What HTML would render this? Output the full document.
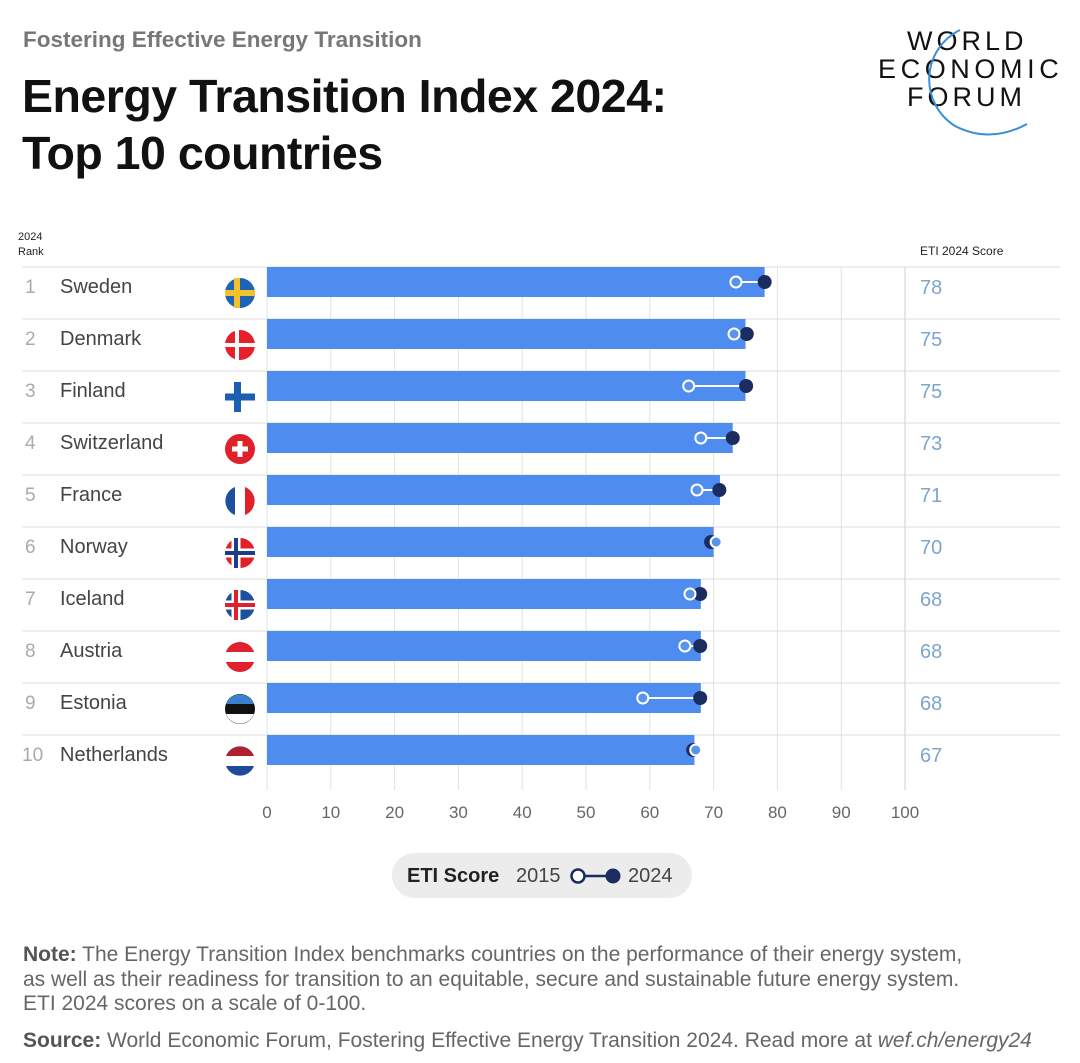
<!DOCTYPE html>
<html><head><meta charset="utf-8"><style>
body{margin:0;background:#fff;font-family:"Liberation Sans",Arial,sans-serif;}
#wrap{position:relative;width:1080px;height:1063px;overflow:hidden;}
.t{position:absolute;white-space:nowrap;}
</style></head><body>
<div id="wrap">
<div class="t" style="left:23px;top:27px;font-size:22.5px;color:#777;font-weight:bold;">Fostering Effective Energy Transition</div>
<div class="t" style="left:22px;top:68px;font-size:46.5px;line-height:57px;color:#111;font-weight:bold;letter-spacing:-0.5px;">Energy Transition Index 2024:<br>Top 10 countries</div>
<div style="position:absolute;left:875px;top:26px;width:195px;height:115px;">
<div class="t" style="left:32px;top:0;font-size:27px;letter-spacing:4px;color:#111;">WORLD</div>
<div class="t" style="left:3px;top:28px;font-size:27px;letter-spacing:4.6px;color:#111;">ECONOMIC</div>
<div class="t" style="left:32px;top:56px;font-size:27px;letter-spacing:4px;color:#111;">FORUM</div>
<svg width="195" height="115" style="position:absolute;left:0;top:0"><path d="M85 4 A55 55 0 0 0 80 100 Q115 118 152 98" fill="none" stroke="#3b8fd6" stroke-width="2"/></svg>
</div>
<svg id="chart" width="1080" height="1063" style="position:absolute;left:0;top:0"></svg>
<div style="position:absolute;left:392px;top:853px;width:300px;height:45px;border-radius:23px;background:#ececec;"></div>
<div class="t" style="left:407px;top:865px;font-size:20px;font-weight:bold;color:#222;">ETI Score</div>
<div class="t" style="left:516px;top:865px;font-size:20px;color:#444;">2015</div>
<svg style="position:absolute;left:568px;top:864px" width="56" height="24"><line x1="10" y1="12" x2="45" y2="12" stroke="#1b2d60" stroke-width="2.5"/><circle cx="10" cy="12" r="6.5" fill="#fff" stroke="#1b2d60" stroke-width="2.5"/><circle cx="45" cy="12" r="7.5" fill="#1b2d60"/></svg>
<div class="t" style="left:628px;top:865px;font-size:20px;color:#444;">2024</div>
<div class="t" style="left:23px;top:943px;font-size:21px;line-height:24.5px;color:#666;"><b style="color:#555">Note:</b> The Energy Transition Index benchmarks countries on the performance of their energy system,<br>as well as their readiness for transition to an equitable, secure and sustainable future energy system.<br>ETI 2024 scores on a scale of 0-100.</div>
<div class="t" style="left:23px;top:1029px;font-size:21px;color:#666;"><b style="color:#555">Source:</b> World Economic Forum, Fostering Effective Energy Transition 2024. Read more at <i>wef.ch/energy24</i></div>
</div>
<script>
const countries=["Sweden","Denmark","Finland","Switzerland","France","Norway","Iceland","Austria","Estonia","Netherlands"];
const scores2024=[78,75,75,73,71,70,68,68,68,67];
const dot2024=[78,75.2,75.1,73,70.9,69.6,67.9,67.9,67.9,66.8];
const dot2015=[73.5,73.2,66.1,68,67.4,70.4,66.3,65.5,58.9,67.2];
const ticks=[0,10,20,30,40,50,60,70,80,90,100];
const svg=document.getElementById('chart');
const NS='http://www.w3.org/2000/svg';
const X0=267,X1=905,TOP=267,ROW=52;
const x=v=>X0+(X1-X0)*v/100;
const y=i=>TOP+i*ROW;
function mk(tag,attrs,parent){const e=document.createElementNS(NS,tag);for(const k in attrs)e.setAttribute(k,attrs[k]);(parent||svg).appendChild(e);return e;}
function txt(s,attrs){const e=mk('text',attrs);e.textContent=s;return e;}
let h=txt('2024',{x:18,y:240,'font-size':11,fill:'#222','font-family':'Liberation Sans'});


h=txt('Rank',{x:18,y:255,'font-size':11,fill:'#222','font-family':'Liberation Sans'});


h=txt('ETI 2024 Score',{x:920,y:255,'font-size':12,fill:'#222','font-family':'Liberation Sans'});


ticks.forEach(t=>{
  const l=mk('line',{x1:x(t),x2:x(t),y1:TOP,y2:790,stroke:t===100?'#cfcfcf':'#e2e2e2','stroke-width':1});
  
  
  const tl=txt(String(t),{x:x(t),y:818,'text-anchor':'middle','font-size':17,fill:'#666','font-family':'Liberation Sans'});
  
  
});
const flagDraw={
 Sweden:(g)=>{mk('circle',{cx:0,cy:0,r:15,fill:'#1e64b4'},g);mk('rect',{x:-15,y:-3,width:30,height:6,fill:'#f2c12e'},g);mk('rect',{x:-6,y:-15,width:6,height:30,fill:'#f2c12e'},g);},
 Denmark:(g)=>{mk('circle',{cx:0,cy:0,r:15,fill:'#e8202a'},g);mk('rect',{x:-15,y:-2,width:30,height:4,fill:'#fff'},g);mk('rect',{x:-5,y:-15,width:4,height:30,fill:'#fff'},g);},
 Finland:(g)=>{mk('circle',{cx:0,cy:0,r:15,fill:'#fff'},g);mk('rect',{x:-15,y:-3.5,width:30,height:7,fill:'#1b5fb0'},g);mk('rect',{x:-6,y:-15,width:7,height:30,fill:'#1b5fb0'},g);},
 Switzerland:(g)=>{mk('circle',{cx:0,cy:0,r:15,fill:'#e0202a'},g);mk('rect',{x:-8,y:-2.5,width:16,height:5,fill:'#fff'},g);mk('rect',{x:-2.5,y:-8,width:5,height:16,fill:'#fff'},g);},
 France:(g)=>{mk('circle',{cx:0,cy:0,r:15,fill:'#fff'},g);mk('path',{d:'M-5,-14 A15,15 0 0 0 -5,14 Z',fill:'#1e50a0'},g);mk('path',{d:'M5,-14 A15,15 0 0 1 5,14 Z',fill:'#e0202a'},g);},
 Norway:(g)=>{mk('circle',{cx:0,cy:0,r:15,fill:'#e0202a'},g);mk('rect',{x:-15,y:-4.5,width:30,height:9,fill:'#fff'},g);mk('rect',{x:-8.5,y:-15,width:9,height:30,fill:'#fff'},g);mk('rect',{x:-15,y:-2,width:30,height:4,fill:'#1e3c8c'},g);mk('rect',{x:-6,y:-15,width:4,height:30,fill:'#1e3c8c'},g);},
 Iceland:(g)=>{mk('circle',{cx:0,cy:0,r:15,fill:'#1e50a0'},g);mk('rect',{x:-15,y:-4.5,width:30,height:9,fill:'#fff'},g);mk('rect',{x:-8.5,y:-15,width:9,height:30,fill:'#fff'},g);mk('rect',{x:-15,y:-2,width:30,height:4,fill:'#e0202a'},g);mk('rect',{x:-6,y:-15,width:4,height:30,fill:'#e0202a'},g);},
 Austria:(g)=>{mk('circle',{cx:0,cy:0,r:15,fill:'#e0202a'},g);mk('rect',{x:-15,y:-5,width:30,height:10,fill:'#fff'},g);},
 Estonia:(g)=>{mk('circle',{cx:0,cy:0,r:15,fill:'#111'},g);mk('path',{d:'M-14,-5 A15,15 0 0 1 14,-5 Z',fill:'#3b7fd0'},g);mk('path',{d:'M-14,5 A15,15 0 0 0 14,5 Z',fill:'#fff'},g);},
 Netherlands:(g)=>{mk('circle',{cx:0,cy:0,r:15,fill:'#fff'},g);mk('path',{d:'M-14,-5 A15,15 0 0 1 14,-5 Z',fill:'#b02030'},g);mk('path',{d:'M-14,5 A15,15 0 0 0 14,5 Z',fill:'#1e4a9a'},g);}
};
countries.forEach((c,i)=>{
  const yt=y(i);
  const sep=mk('line',{x1:22,x2:1060,y1:yt,y2:yt,stroke:'#dcdcdc','stroke-width':1});
  
  
  const r=txt(String(i+1),{x:i===9?22:25,y:yt+26,'font-size':19,fill:'#aaa','font-family':'Liberation Sans'});
  
  
  const n=txt(c,{x:60,y:yt+26,'font-size':20,fill:'#444','font-family':'Liberation Sans'});
  
  
  const g=mk('g',{transform:`translate(240,${yt+26})`});
  
  
  flagDraw[c](g);
  const b=mk('rect',{x:X0,y:yt,width:x(scores2024[i])-X0,height:30,fill:'#4f8cef'});
  
  
  const ln=mk('line',{x1:x(dot2015[i]),x2:x(dot2024[i]),y1:yt+15,y2:yt+15,stroke:'#fff','stroke-width':2});
  
  
  const nd=mk('circle',{cx:x(dot2024[i]),cy:yt+15,r:7,fill:'#1b2d60'});
  
  
  const od=mk('circle',{cx:x(dot2015[i]),cy:yt+15,r:5.5,fill:'#5a93ee',stroke:'#fff','stroke-width':2});
  
  
  const s=txt(String(scores2024[i]),{x:920,y:yt+27,'font-size':20,fill:'#7fa5cc','font-family':'Liberation Sans'});
  
  
});
</script>
</body></html>
